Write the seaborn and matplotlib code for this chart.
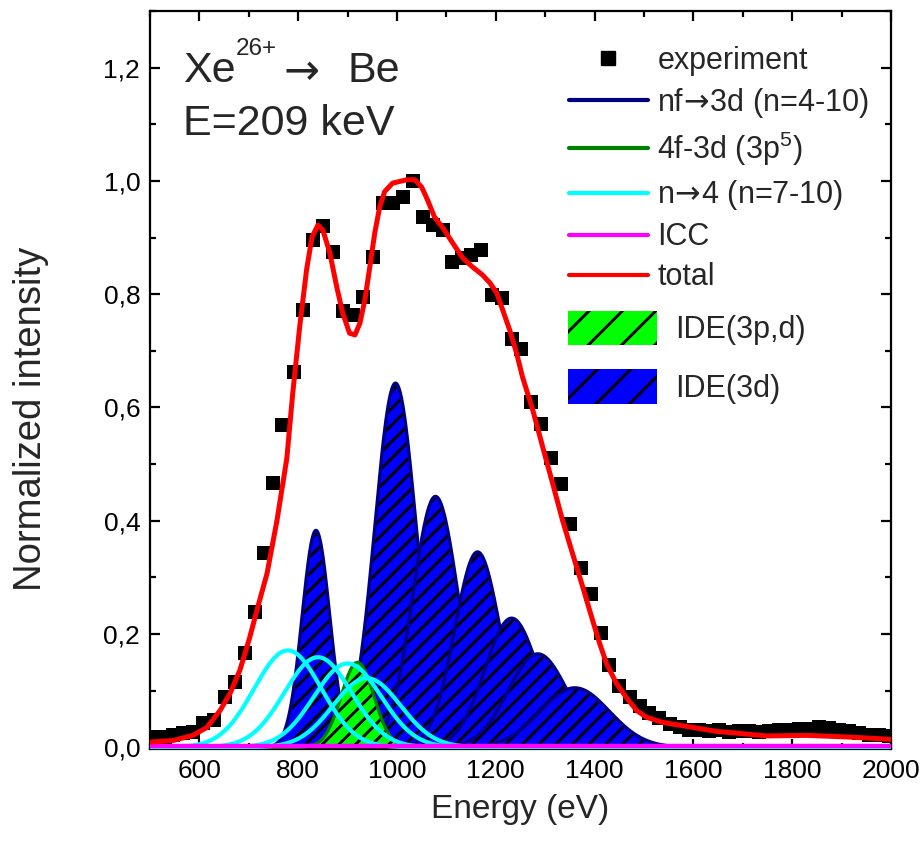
import numpy as np
import pandas as pd
import matplotlib
matplotlib.use("Agg")
import matplotlib.pyplot as plt
from matplotlib.lines import Line2D
from matplotlib.patches import Patch
from matplotlib.ticker import MultipleLocator, FuncFormatter
import seaborn as sns

# Measured spectrum
exp_energy = [514, 530, 547, 567, 587, 607, 629, 652, 672, 692, 712, 731, 749, 767, 791,
              809, 830, 850, 870, 890, 910, 931, 951, 971, 991, 1012, 1032, 1052, 1072,
              1093, 1111, 1131, 1149, 1171, 1192, 1212, 1232, 1252, 1272, 1291, 1311, 1331,
              1351, 1372, 1392, 1412, 1430, 1450, 1471, 1491, 1511, 1531, 1552, 1572, 1592,
              1612, 1632, 1652, 1673, 1693, 1713, 1733, 1754, 1774, 1794, 1814, 1834, 1855,
              1875, 1895, 1915, 1935, 1956, 1976, 1996]
exp_intensity = [0.018, 0.019, 0.021, 0.025, 0.027, 0.042, 0.048, 0.088, 0.115, 0.166, 0.239,
                 0.343, 0.466, 0.569, 0.663, 0.772, 0.896, 0.920, 0.875, 0.770, 0.763, 0.795,
                 0.866, 0.961, 0.961, 0.972, 1.000, 0.936, 0.922, 0.913, 0.857, 0.864, 0.869,
                 0.878, 0.799, 0.793, 0.721, 0.703, 0.610, 0.571, 0.511, 0.465, 0.394, 0.316,
                 0.270, 0.201, 0.145, 0.108, 0.088, 0.072, 0.060, 0.051, 0.041, 0.035, 0.030,
                 0.030, 0.028, 0.030, 0.027, 0.028, 0.029, 0.027, 0.028, 0.030, 0.031, 0.033,
                 0.032, 0.035, 0.034, 0.030, 0.028, 0.025, 0.022, 0.022, 0.020]

# Total fitted spectrum
total_energy = [500, 547, 587, 615, 642, 662, 682, 702, 718, 737, 757, 777, 789, 803, 817,
                828, 840, 850, 864, 878, 890, 904, 915, 925, 935, 945, 955, 965, 975, 991,
                1020, 1036, 1050, 1062, 1076, 1093, 1113, 1133, 1153, 1173, 1188, 1202, 1214,
                1228, 1242, 1254, 1275, 1295, 1315, 1335, 1355, 1376, 1396, 1410, 1424, 1444,
                1465, 1485, 1505, 1537, 1572, 1606, 1647, 1687, 1748, 1829, 1916, 2000]
total_intensity = [0.009, 0.012, 0.021, 0.035, 0.065, 0.095, 0.136, 0.194, 0.247, 0.307,
                   0.400, 0.510, 0.625, 0.742, 0.843, 0.901, 0.922, 0.913, 0.873, 0.813,
                   0.767, 0.731, 0.728, 0.749, 0.790, 0.848, 0.908, 0.954, 0.981, 0.996,
                   1.002, 1.002, 0.989, 0.966, 0.936, 0.917, 0.890, 0.864, 0.848, 0.834,
                   0.820, 0.802, 0.772, 0.737, 0.696, 0.654, 0.595, 0.530, 0.466, 0.401,
                   0.343, 0.283, 0.224, 0.184, 0.148, 0.113, 0.087, 0.065, 0.053, 0.044,
                   0.039, 0.034, 0.028, 0.025, 0.020, 0.021, 0.018, 0.014]

# nf -> 3d lines, IDE(3d): centre (eV), peak height, width (eV)
ide3d_center = [836, 997, 1078, 1163, 1232, 1285, 1360]
ide3d_height = [0.383, 0.643, 0.443, 0.345, 0.228, 0.165, 0.105]
ide3d_sigma = [28, 42, 46, 46, 54, 60, 70]

# 4f -> 3d (3p^5) line, IDE(3p,d)
ide3pd_center = [920]
ide3pd_height = [0.150]
ide3pd_sigma = [33]

# n -> 4 lines (n = 7-10)
n4_center = [779, 840, 900, 939]
n4_height = [0.171, 0.159, 0.148, 0.122]
n4_sigma = [68, 68, 68, 68]

# ICC contribution
icc_energy = [500, 2000]
icc_intensity = [0.002, 0.002]

x_ticks = [600, 800, 1000, 1200, 1400, 1600, 1800, 2000]
y_ticks = [0.0, 0.2, 0.4, 0.6, 0.8, 1.0, 1.2]

sns.set_style("ticks")
plt.rcParams["font.family"] = ["Liberation Sans", "DejaVu Sans"]
plt.rcParams["mathtext.fontset"] = "custom"
plt.rcParams["mathtext.rm"] = "DejaVu Sans"
plt.rcParams["mathtext.default"] = "regular"
plt.rcParams["hatch.color"] = "black"
plt.rcParams["hatch.linewidth"] = 2.1

NAVY = "#000080"
BLUE = "#0000FF"
DKGREEN = "#008000"
LGREEN = "#00FF00"
CYAN = "#00FFFF"
MAGENTA = "#FF00FF"
RED = "#FF0000"

ARROW = "$\\!\\mathrm{\\rightarrow}\\!$"

grid = np.linspace(500, 2000, 1501)


def line_profile(c, h, s):
    return h * np.exp(-0.5 * ((grid - c) / s) ** 2)


fig = plt.figure(figsize=(9.24, 8.51), dpi=100)
ax = fig.add_axes([0.1623, 0.1199, 0.8020, 0.8672])

# IDE(3d) components, each drawn over the previous one
z = 2.0
for c, h, s in zip(ide3d_center, ide3d_height, ide3d_sigma):
    prof = line_profile(c, h, s)
    ax.fill_between(grid, 0, prof, facecolor=BLUE, edgecolor="black", hatch="//",
                    linewidth=0, zorder=z)
    sns.lineplot(x=grid, y=prof, color=NAVY, linewidth=2.3, ax=ax, zorder=z + 0.01,
                 estimator=None, sort=False)
    z += 0.02

# IDE(3p,d) component
for c, h, s in zip(ide3pd_center, ide3pd_height, ide3pd_sigma):
    prof = line_profile(c, h, s)
    ax.fill_between(grid, 0, prof, facecolor=LGREEN, edgecolor="black", hatch="//",
                    linewidth=0, zorder=3)
    sns.lineplot(x=grid, y=prof, color=DKGREEN, linewidth=2.3, ax=ax, zorder=3.01,
                 estimator=None, sort=False)

# n -> 4 components
for c, h, s in zip(n4_center, n4_height, n4_sigma):
    sns.lineplot(x=grid, y=line_profile(c, h, s), color=CYAN, linewidth=3.0, ax=ax,
                 zorder=4, estimator=None, sort=False)

# ICC
sns.lineplot(x=icc_energy, y=icc_intensity, color=MAGENTA, linewidth=3.2, ax=ax,
             zorder=4.2, estimator=None, sort=False)

# experiment
sns.scatterplot(x=exp_energy, y=exp_intensity, marker="s", s=110, color="black",
                linewidth=0, ax=ax, zorder=4.5)

# total
sns.lineplot(x=total_energy, y=total_intensity, color=RED, linewidth=3.6, ax=ax,
             zorder=6, estimator=None, sort=False)

ax.set_xlim(500, 2000)
ax.set_ylim(-0.003, 1.3)
ax.set_xticks(x_ticks)
ax.set_yticks(y_ticks)
ax.xaxis.set_minor_locator(MultipleLocator(100))
ax.yaxis.set_minor_locator(MultipleLocator(0.1))
ax.yaxis.set_major_formatter(FuncFormatter(lambda v, p: f"{v:.1f}".replace(".", ",")))
ax.tick_params(which="both", direction="in", top=True, right=True, width=1.6,
               labelsize=19, pad=7, colors="black")
ax.tick_params(which="major", length=7)
ax.tick_params(which="minor", length=4)
for sp in ax.spines.values():
    sp.set_linewidth(1.6)
    sp.set_color("black")

ax.set_xlabel("Energy (eV)", fontsize=24, labelpad=8)
ax.set_ylabel("Normalized intensity", fontsize=27.5)
ax.yaxis.set_label_coords(-0.136, 0.447)

# ion and beam energy
ax.text(0.045, 0.904, "Xe", transform=ax.transAxes, fontsize=31,
        va="baseline", ha="left")
ax.text(0.116, 0.940, "26+", transform=ax.transAxes, fontsize=17.5,
        va="baseline", ha="left")
ax.text(0.178, 0.904, ARROW, transform=ax.transAxes, fontsize=31,
        va="baseline", ha="left")
ax.text(0.267, 0.904, "Be", transform=ax.transAxes, fontsize=31,
        va="baseline", ha="left")
ax.text(0.045, 0.832, "E=209 keV", transform=ax.transAxes, fontsize=31,
        va="baseline", ha="left")

line_handles = [
    Line2D([], [], marker="s", color="black", linestyle="none", markersize=10),
    Line2D([], [], color=NAVY, linewidth=3),
    Line2D([], [], color=DKGREEN, linewidth=3),
    Line2D([], [], color=CYAN, linewidth=3),
    Line2D([], [], color=MAGENTA, linewidth=3),
    Line2D([], [], color=RED, linewidth=3),
]
line_labels = ["experiment", "nf" + ARROW + "3d (n=4-10)", "4f-3d (3p$^5$)",
               "n" + ARROW + "4 (n=7-10)", "ICC", "total"]
leg1 = ax.legend(line_handles, line_labels, loc="upper left",
                 bbox_to_anchor=(0.565, 0.953), frameon=False, fontsize=22,
                 handlelength=2.6, handletextpad=0.3, labelspacing=0.33,
                 borderpad=0, borderaxespad=0)
ax.add_artist(leg1)

patch_handles = [
    Patch(facecolor=LGREEN, edgecolor="black", hatch="/", linewidth=0),
    Patch(facecolor=BLUE, edgecolor="black", hatch="/", linewidth=0),
]
ax.legend(patch_handles, ["IDE(3p,d)", "IDE(3d)"], loc="upper left",
          bbox_to_anchor=(0.564, 0.594), frameon=False, fontsize=22,
          handlelength=2.9, handleheight=1.35, handletextpad=0.6, labelspacing=0.8,
          borderpad=0, borderaxespad=0)

fig.savefig("out.png", dpi=100)
